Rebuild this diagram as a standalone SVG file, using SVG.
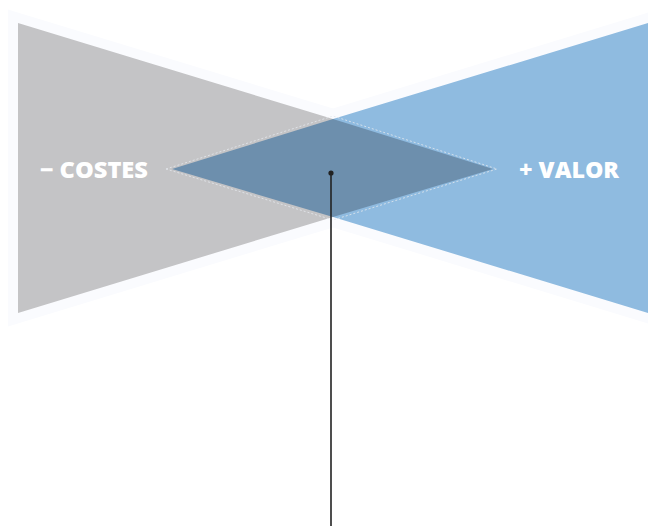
<svg xmlns="http://www.w3.org/2000/svg" width="648" height="526" viewBox="0 0 648 526">
  <style>
    .halo { fill: #fafbfe; stroke: #fafbfe; stroke-width: 20; stroke-linejoin: miter; }
    .label { font-family: "Open Sans", "Liberation Sans", Arial, sans-serif; font-weight: 800; font-size: 23px; fill: #ffffff; }
  </style>
  <rect width="648" height="526" fill="#ffffff"/>
  <g id="halos">
    <polygon class="halo" points="18,23 333,119 333,217 18,313"/>
    <polygon class="halo" points="648,23 333,119 333,217 648,313"/>
  </g>
  <g id="costes">
    <polygon points="18,23 333,119 333,217 18,313" fill="#c4c4c6"/>
    <text class="label" x="40" y="178" textLength="108" lengthAdjust="spacingAndGlyphs">− COSTES</text>
  </g>
  <g id="valor">
    <polygon points="648,23 333,119 333,217 648,313" fill="#8fbbe0"/>
    <text class="label" x="519" y="178" textLength="100" lengthAdjust="spacingAndGlyphs">+ VALOR</text>
  </g>
  <g id="overlap">
    <polygon points="172,169 333,119 493,169 333,217" fill="#6d8fad"/>
    <polygon points="166,169 333,116 497,169 333,220" fill="none" stroke="#e4e9ee" stroke-width="0.8" stroke-dasharray="2 2"/>
  </g>
  <g id="connectors">
    <line x1="331" y1="173" x2="331" y2="526" stroke="#222222" stroke-width="1.6"/>
    <circle cx="331" cy="173" r="2.6" fill="#222222"/>
  </g>
</svg>
